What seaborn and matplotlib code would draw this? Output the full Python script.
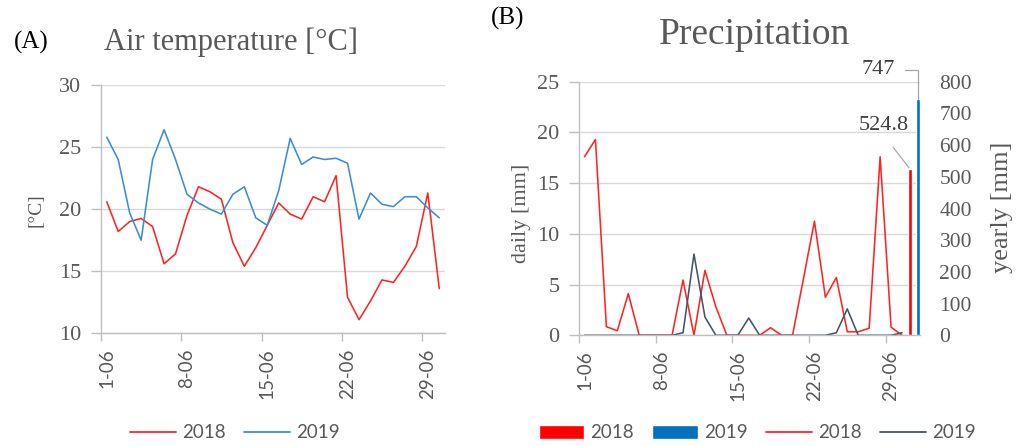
import numpy as np
import pandas as pd
import matplotlib
matplotlib.use("Agg")
import matplotlib.pyplot as plt
import seaborn as sns
from matplotlib.lines import Line2D
from matplotlib.patches import Patch

# ---------------- data ----------------
days = list(range(30))                       # 1-06 ... 30-06
tick_pos = [0, 7, 14, 21, 28]
tick_labels = ["1-06", "8-06", "15-06", "22-06", "29-06"]
years = ["2018", "2019"]

temp_2018 = [20.6, 18.2, 19.0, 19.25, 18.6, 15.6, 16.4, 19.5, 21.8, 21.4,
             20.8, 17.3, 15.4, 16.9, 18.7, 20.5, 19.6, 19.2, 21.0, 20.6,
             22.7, 12.9, 11.1, 12.6, 14.3, 14.1, 15.4, 17.0, 21.3, 13.6]
temp_2019 = [25.8, 24.0, 19.7, 17.5, 24.0, 26.4, 24.0, 21.2, 20.5, 20.0,
             19.6, 21.2, 21.8, 19.3, 18.7, 21.5, 25.7, 23.6, 24.2, 24.0,
             24.1, 23.7, 19.2, 21.3, 20.4, 20.2, 21.0, 21.0, 20.1, 19.3]

precip_2018 = [17.6, 19.3, 0.85, 0.45, 4.1, 0, 0, 0, 0, 5.45,
               0, 6.4, 2.8, 0, 0, 0, 0, 0.75, 0, 0,
               5.6, 11.25, 3.75, 5.7, 0.35, 0.35, 0.7, 17.6, 0.8, 0]
precip_2019 = [0, 0, 0, 0, 0, 0, 0, 0, 0, 0.25,
               8.0, 1.8, 0, 0, 0, 1.7, 0, 0, 0, 0,
               0, 0, 0, 0.25, 2.6, 0, 0, 0, 0, 0.25]
yearly = [524.8, 747]
yearly_labels = ["524.8", "747"]

# ---------------- style ----------------
RED = "#FF2424"
BLUE_A = "#3A8ED4"
SLATE = "#44546A"
BAR_RED = "#FF0000"
BAR_BLUE = "#0070C0"
GRID = "#D9D9D9"
AXC = "#BFBFBF"
TXT = "#595959"

sns.set_theme(style="white")
SERIF = ["Liberation Serif", "DejaVu Serif"]
SANS = ["Lato", "DejaVu Sans"]
plt.rcParams["font.family"] = SERIF

W, H = 1022, 446
fig = plt.figure(figsize=(W / 100, H / 100), dpi=100)


def ax_px(l, t, r, b):
    return fig.add_axes([l / W, 1 - b / H, (r - l) / W, (b - t) / H])


axA = ax_px(101, 85, 445, 333.3)
axB = ax_px(579, 81.7, 920, 335.3)

# ---------------- panel A ----------------
dfA = pd.DataFrame({"day": days, "2018": temp_2018, "2019": temp_2019}).melt(
    "day", var_name="year", value_name="temp")
sns.lineplot(data=dfA, x="day", y="temp", hue="year",
             palette={"2018": RED, "2019": BLUE_A}, ax=axA, lw=1.15, legend=False)
axA.set_xlim(-0.5, 29.5)
axA.set_ylim(10, 30)
axA.set_yticks([10, 15, 20, 25, 30])

# ---------------- panel B ----------------
dfB = pd.DataFrame({"day": days, "2018": precip_2018, "2019": precip_2019}).melt(
    "day", var_name="year", value_name="mm")
sns.lineplot(data=dfB, x="day", y="mm", hue="year",
             palette={"2018": RED, "2019": SLATE}, ax=axB, lw=1.15, legend=False)
axB.set_xlim(-0.5, 30.64)
axB.set_ylim(0, 25)
axB.set_yticks([0, 5, 10, 15, 20, 25])

axB2 = axB.twinx()
bar_x = [29.72, 30.43]
axB2.bar(bar_x, yearly, width=0.33, color=[BAR_RED, BAR_BLUE], zorder=3)
axB2.set_ylim(0, 800)
axB2.set_yticks(range(0, 801, 100))
axB2.tick_params(axis="y", length=0, pad=14, labelsize=15.5, labelcolor=TXT)
for lab in axB2.get_yticklabels():
    lab.set_family(SERIF)
for s in axB2.spines.values():
    s.set_visible(False)
axB2.grid(False)

# common axis styling
for ax in (axA, axB):
    ax.set_xlabel("")
    ax.set_ylabel("")
    ax.grid(axis="y", color=GRID, lw=1.0)
    ax.grid(axis="x", visible=False)
    for s in ("top", "right"):
        ax.spines[s].set_visible(False)
    for s in ("left", "bottom"):
        ax.spines[s].set_color(AXC)
        ax.spines[s].set_linewidth(1.0)
    ax.set_xticks(tick_pos)
    ax.set_xticklabels(tick_labels, rotation=90, family=SANS, fontsize=13.5, color=TXT)
    ax.set_xticks([p - 0.5 for p in tick_pos], minor=True)
    ax.tick_params(axis="x", which="major", length=0, pad=11)
    ax.tick_params(axis="x", which="minor", length=6, width=1.0, color=AXC, bottom=True)
    ax.tick_params(axis="y", length=7, width=1.0, color=AXC, left=True, pad=7,
                   labelsize=16, labelcolor=TXT)
    for lab in ax.get_yticklabels():
        lab.set_family(SERIF)

# annotations for yearly bars
axB2.annotate(yearly_labels[1], xy=(bar_x[1], yearly[1]),
              xytext=(878 / W, 1 - 70 / H), textcoords="figure fraction",
              ha="center", va="center", fontsize=16, color="#404040", family=SERIF,
              arrowprops=dict(arrowstyle="-", color="#A6A6A6", lw=0.9,
                              connectionstyle="angle,angleA=0,angleB=90,rad=0",
                              shrinkA=5, shrinkB=0, relpos=(1, 0.5)))
axB2.annotate(yearly_labels[0], xy=(bar_x[0], yearly[0]),
              xytext=(884 / W, 1 - 126 / H), textcoords="figure fraction",
              ha="center", va="center", fontsize=16, color="#404040", family=SERIF,
              arrowprops=dict(arrowstyle="-", color="#A6A6A6", lw=0.9,
                              shrinkA=8, shrinkB=1, relpos=(0.5, 0)))

# ---------------- texts ----------------
def ftext(x, y, s, **kw):
    fig.text(x / W, 1 - y / H, s, ha="center", va="center", **kw)

ftext(31, 42, "(A)", fontsize=18, color="black", family=SERIF)
ftext(508, 18, "(B)", fontsize=18, color="black", family=SERIF)
ftext(231, 42, "Air temperature [°C]", fontsize=22, color=TXT, family=SERIF)
ftext(754, 35, "Precipitation", fontsize=27, color=TXT, family=SERIF)
ftext(36, 210, "[°C]", fontsize=14, color=TXT, family=SERIF, rotation=90)
ftext(521, 213, "daily [mm]", fontsize=16, color=TXT, family=SERIF, rotation=90)
ftext(1002, 207, "yearly [mm]", fontsize=19, color=TXT, family=SERIF, rotation=90)

# ---------------- legends ----------------
hA = [Line2D([], [], color=RED, lw=1.3), Line2D([], [], color=BLUE_A, lw=1.3)]
fig.legend(hA, years, loc="center", bbox_to_anchor=(235 / W, 1 - 433 / H), ncol=2,
           frameon=False, prop={"family": SANS, "size": 13.5}, labelcolor=TXT,
           handlelength=2.45, handletextpad=0.3, columnspacing=1.0)

hB = [Patch(facecolor=BAR_RED), Patch(facecolor=BAR_BLUE),
      Line2D([], [], color=RED, lw=1.3), Line2D([], [], color=SLATE, lw=1.3)]
fig.legend(hB, years + years, loc="center", bbox_to_anchor=(757 / W, 1 - 433 / H), ncol=4,
           frameon=False, prop={"family": SANS, "size": 13.5}, labelcolor=TXT,
           handlelength=2.45, handleheight=0.75, handletextpad=0.3, columnspacing=1.0)

fig.savefig("out.png", dpi=100)
